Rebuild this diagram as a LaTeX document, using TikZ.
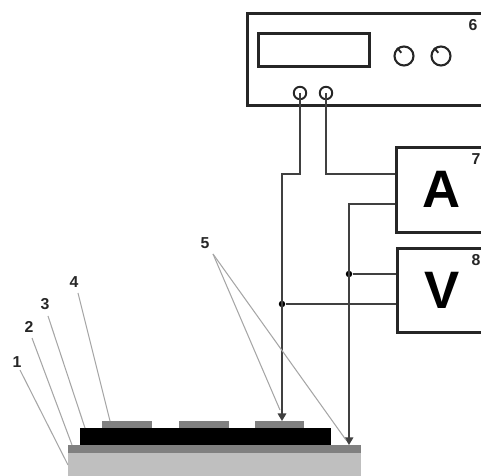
\documentclass[tikz,border=0pt]{standalone}
\usepackage{fontspec}
\setmainfont{Liberation Sans}
\usetikzlibrary{arrows.meta, positioning, calc}

\begin{document}
\begin{tikzpicture}[
  x=0.02cm, y=-0.02cm,
  device/.style = {rectangle, draw=black!85, line width=1.5pt, anchor=north west, inner sep=0pt},
  knob/.style = {circle, draw=black!85, line width=1.2pt, minimum size=0.38cm, inner sep=0pt},
  terminal/.style = {circle, draw=black!85, line width=1.1pt, minimum size=0.25cm, inner sep=0pt},
  wire/.style = {draw=black!75, line width=0.85pt},
  probe/.style = {wire, -{Triangle[width=1.7mm, length=1.5mm]}},
  leader/.style = {draw=black!35, line width=0.6pt},
  junction/.style = {circle, fill=black, minimum size=1.3mm, inner sep=0pt},
  layer/.style = {rectangle, anchor=north west, inner sep=0pt},
  number/.style = {font=\bfseries\small, text=black!85, inner sep=0pt},
  letter/.style = {font=\bfseries\fontsize{30}{30}\selectfont, inner sep=0pt}
]

\useasboundingbox (0,0) rectangle (481,476);

% Sample layers
\node[layer, fill=black!25, minimum width=5.86cm, minimum height=0.46cm] (substrate) at (68,453) {};
\node[layer, fill=black!50, minimum width=5.86cm, minimum height=0.16cm] (film) at (68,445) {};
\node[layer, fill=black, minimum width=5.02cm, minimum height=0.34cm] (absorber) at (80,428) {};
\node[layer, fill=black!50, minimum width=1cm, minimum height=0.14cm] (contact1) at (102,421) {};
\node[layer, fill=black!50, minimum width=1cm, minimum height=0.14cm] (contact2) at (179,421) {};
\node[layer, fill=black!50, minimum width=0.98cm, minimum height=0.14cm] (contact3) at (255,421) {};

% Instruments
\node[device, minimum width=5cm, minimum height=1.84cm] (source) at (246,12) {};
\node[device, minimum width=2.22cm, minimum height=0.66cm] (display) at (257,32) {};
\node[knob] (knob1) at (404,56) {};
\node[knob] (knob2) at (441,56) {};
\draw[line width=1.1pt, black!85] ($(knob1.center)!0.4!(knob1.130)$) -- (knob1.130);
\draw[line width=1.1pt, black!85] ($(knob2.center)!0.4!(knob2.130)$) -- (knob2.130);
\node[terminal] (term1) at (300,93) {};
\node[terminal] (term2) at (326,93) {};
\node[device, minimum width=2cm, minimum height=1.7cm] (ammeter) at (395,146) {};
\node[device, minimum width=2cm, minimum height=1.68cm] (voltmeter) at (396,247) {};
\node[letter] (lettera) at (442,189) {A};
\node[letter] (letterv) at (442,290) {V};

% Wiring
\coordinate (tip1) at (282,421);
\coordinate (tip2) at (349,445);
\node[junction] (dot1) at (282,304) {};
\node[junction] (dot2) at (349,274) {};
\draw[probe] (term1.center) -- (300,174) -- (282,174) -- (tip1);
\draw[wire] (term2.center) -- (326,174) -- (395,174);
\draw[probe] (ammeter.west |- 0,204) -- (349,204) -- (tip2);
\draw[wire] (dot1) -- (voltmeter.west |- dot1);
\draw[wire] (dot2) -- (voltmeter.west |- dot2);

% Numbers
\node[number] (num1) at (17,362) {1};
\node[number] (num2) at (29,327) {2};
\node[number] (num3) at (45,304) {3};
\node[number] (num4) at (74,282) {4};
\node[number] (num5) at (205,243) {5};
\node[number] (num6) at (473,25) {6};
\node[number] (num7) at (476,159) {7};
\node[number] (num8) at (476,260) {8};

% Leaders
\coordinate (end1) at (68,465);
\coordinate (end2) at (72,445);
\coordinate (end3) at (85,428);
\coordinate (end4) at (110,421);
\coordinate (end5a) at (280,410);
\coordinate (end5b) at (346,440);
\draw[leader] (20,370) -- (end1);
\draw[leader] (32,338) -- (end2);
\draw[leader] (48,316) -- (end3);
\draw[leader] (78,293) -- (end4);
\draw[leader] (213,254) -- (end5a);
\draw[leader] (213,254) -- (end5b);

\end{tikzpicture}
\end{document}
